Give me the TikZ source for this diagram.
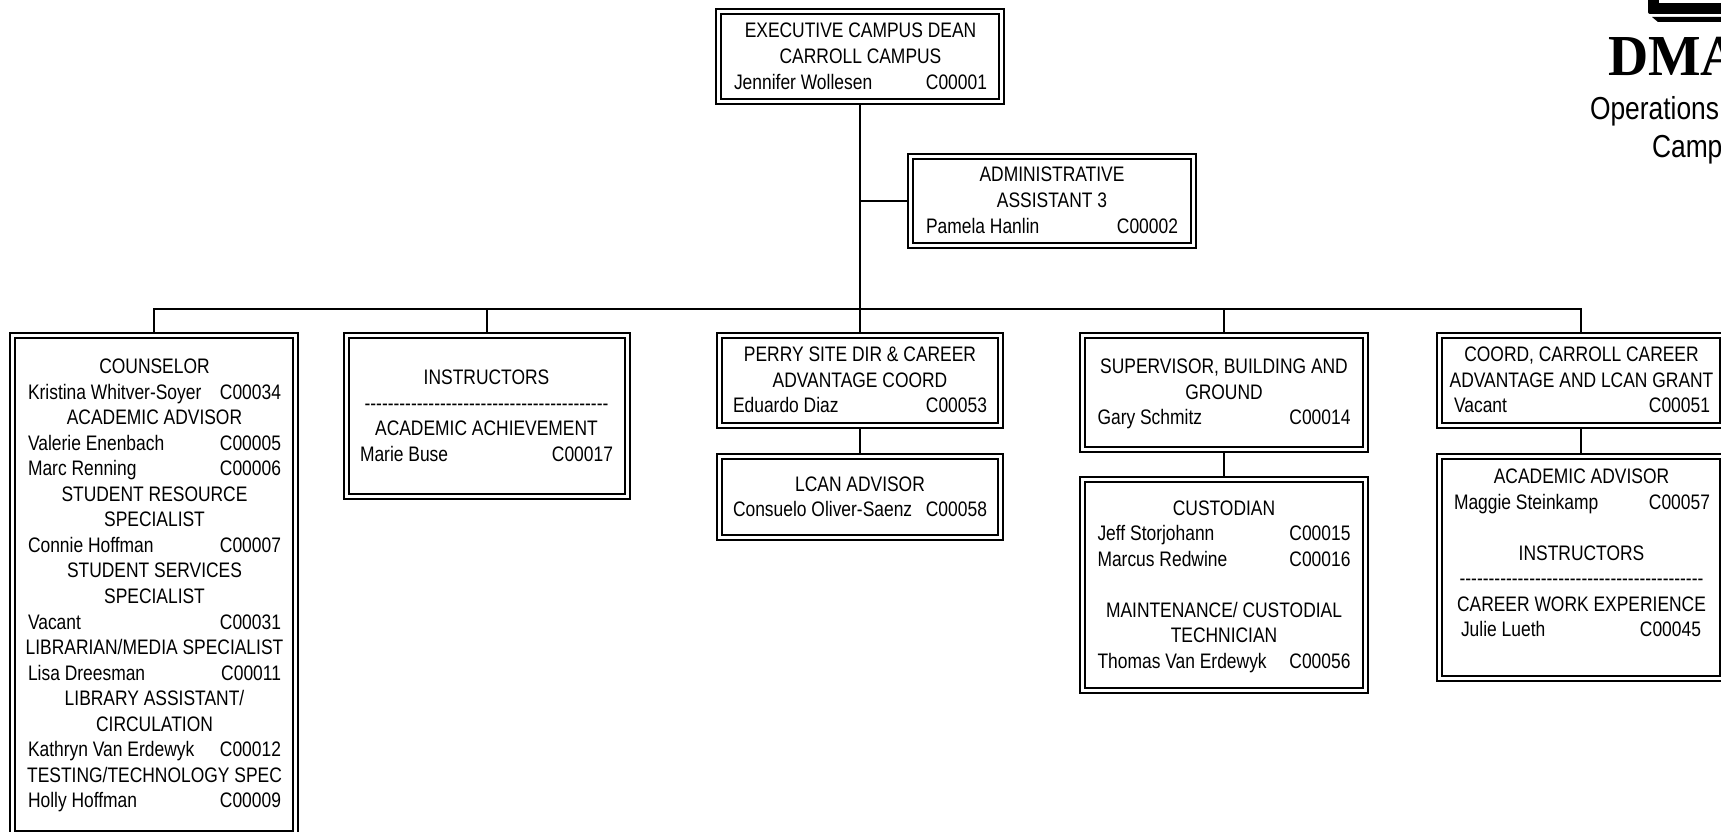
\documentclass[tikz,border=0pt]{standalone}
\usepackage{fontspec}
\setmainfont[FakeStretch=0.83]{Liberation Sans}
\newfontfamily\logofont[FakeStretch=0.96]{Liberation Serif}
\tikzset{
  orgbox/.style={draw=black,double=white,line width=2pt,double distance=2.8pt,
    inner sep=0pt,outer sep=3.4pt,fill=white,shape=rectangle},
  orgtext/.style={inner sep=0pt,outer sep=0pt,anchor=base west,align=left},
  conn/.style={draw=black,line width=2.2pt},
  logotext/.style={inner sep=0pt,outer sep=0pt,anchor=base west}
}
% name, left, top, right, bottom
\newcommand{\obox}[5]{%
  \pgfmathsetmacro{\obw}{#4-#2-6.8}\pgfmathsetmacro{\obh}{#5-#3-6.8}%
  \pgfmathsetmacro{\obx}{(#2+#4)/2}\pgfmathsetmacro{\oby}{(#3+#5)/2}%
  \node[orgbox,minimum width=\obw pt,minimum height=\obh pt] (#1) at (\obx,\oby) {};}
% name, text left, first baseline, text width, content
\newcommand{\otxt}[5]{%
  \node[orgtext] (#1) at (#2,#3) {\vtop{\hsize=#4pt\baselineskip=25.55pt\lineskiplimit=-30pt\parindent=0pt
    \fontsize{21}{25.55}\selectfont\def\obW{#4pt}#5}};}
\newcommand{\ttl}[1]{\hbox to \obW{\hss #1\hss}}
\newcommand{\row}[2]{\hbox to \obW{#1\hfil #2}}
\newcommand{\blank}{\hbox to \obW{\strut\hfil}}
\newcommand{\hy}{-\kern0pt\relax}
\newcommand{\hyten}{\hy\hy\hy\hy\hy\hy\hy\hy\hy\hy}
\newcommand{\hyline}{\hyten\hyten\hyten\hyten\hy\hy}
\begin{document}
\begin{tikzpicture}[x=1pt,y=-1pt]
\useasboundingbox (0,0) rectangle (1721,832);
\clip (0,0) rectangle (1721,832);
\fill[white] (0,0) rectangle (1721,832);
% boxes
\obox{dean}{715}{8}{1005}{105}
\obox{admin}{907}{153}{1197}{249}
\obox{couns}{9}{332}{299}{837}
\obox{instr}{343}{332}{631}{500}
\obox{perry}{716}{332}{1004}{429}
\obox{lcan}{716}{453}{1004}{541}
\obox{super}{1079}{332}{1369}{453}
\obox{cust}{1079}{476}{1369}{694}
\obox{coord}{1436}{332}{1726}{429}
\obox{acad}{1436}{453}{1726}{682}
% connectors
\coordinate (busy) at (0,309);
\coordinate (busleft) at (couns.north |- busy);
\coordinate (busright) at (coord.north |- busy);
\draw[conn] (dean.south) -- (perry.north);
\draw[conn] (admin.west) -- (admin.west -| dean.south);
\draw[conn] (couns.north) -- (busleft) -- (busright) -- (coord.north);
\draw[conn] (instr.north) -- (instr.north |- busy);
\draw[conn] (super.north) -- (super.north |- busy);
\draw[conn] (perry.south) -- (lcan.north);
\draw[conn] (super.south) -- (cust.north);
\draw[conn] (coord.south) -- (acad.north);
% texts
\otxt{tdean}{734}{38}{253}{\ttl{EXECUTIVE CAMPUS DEAN}\ttl{CARROLL CAMPUS}\row{Jennifer Wollesen}{C00001}}
\otxt{tadmin}{926}{182}{252}{\ttl{ADMINISTRATIVE}\ttl{ASSISTANT 3}\row{Pamela Hanlin}{C00002}}
\otxt{tcouns}{28}{373.5}{253}{\ttl{COUNSELOR}\row{Kristina Whitver-Soyer}{C00034}\ttl{ACADEMIC ADVISOR}\row{Valerie Enenbach}{C00005}\row{Marc Renning}{C00006}\ttl{STUDENT RESOURCE}\ttl{SPECIALIST}\row{Connie Hoffman}{C00007}\ttl{STUDENT SERVICES}\ttl{SPECIALIST}\row{Vacant}{C00031}\ttl{LIBRARIAN/MEDIA SPECIALIST}\row{Lisa Dreesman}{C00011}\ttl{LIBRARY ASSISTANT/}\ttl{CIRCULATION}\row{Kathryn Van Erdewyk}{C00012}\ttl{TESTING/TECHNOLOGY SPEC}\row{Holly Hoffman}{C00009}}
\otxt{tinstr}{360}{384.5}{253}{\ttl{INSTRUCTORS}\ttl{\hyline}\ttl{ACADEMIC ACHIEVEMENT}\row{Marie Buse}{C00017}}
\otxt{tperry}{733}{361.5}{254}{\ttl{PERRY SITE DIR \& CAREER}\ttl{ADVANTAGE COORD}\row{Eduardo Diaz}{C00053}}
\otxt{tlcan}{733}{491}{254}{\ttl{LCAN ADVISOR}\row{Consuelo Oliver-Saenz}{C00058}}
\otxt{tsuper}{1097.5}{373.5}{253}{\ttl{SUPERVISOR, BUILDING AND}\ttl{GROUND}\row{Gary Schmitz}{C00014}}
\otxt{tcust}{1097.5}{515}{253}{\ttl{CUSTODIAN}\row{Jeff Storjohann}{C00015}\row{Marcus Redwine}{C00016}\blank\ttl{MAINTENANCE/ CUSTODIAL}\ttl{TECHNICIAN}\row{Thomas Van Erdewyk}{C00056}}
\otxt{tcoord}{1453}{361.5}{257}{\ttl{COORD, CARROLL CAREER}\ttl{ADVANTAGE AND LCAN GRANT}\row{\kern1pt Vacant}{C00051}}
\otxt{tacad}{1453}{483.5}{257}{\ttl{ACADEMIC ADVISOR}\row{\kern1pt Maggie Steinkamp}{C00057}\blank\ttl{INSTRUCTORS}\ttl{\hyline}\ttl{CAREER WORK EXPERIENCE}\row{\kern8pt Julie Lueth}{C00045\kern9pt}}
% logo
\fill[black,rounded corners=2pt] (1648,-5) -- (1648,14) -- (1730,14) -- (1730,-5) -- cycle;
\fill[white] (1659,-5) rectangle (1730,3.3);
\fill[black] (1652,17) -- (1730,17) -- (1730,22) -- (1658,22) -- cycle;
\node[logotext] (dma) at (1608,76) {\logofont\bfseries\fontsize{58}{60}\selectfont DMA};
\node[logotext] (ops) at (1590,120) {\fontsize{31.8}{34}\selectfont Operations};
\node[logotext] (camp) at (1652,157.5) {\fontsize{31.8}{34}\selectfont Camp};
\end{tikzpicture}
\end{document}
